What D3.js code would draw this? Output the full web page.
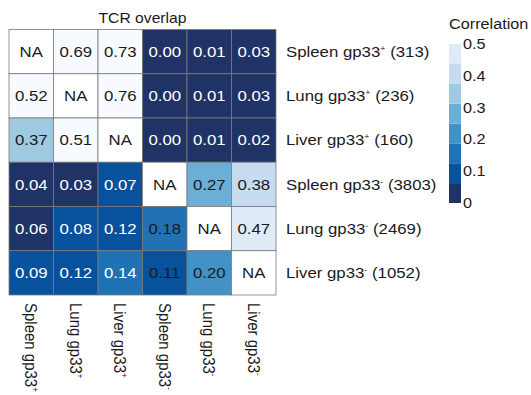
<!DOCTYPE html>
<html><head><meta charset="utf-8">
<script src="https://cdn.jsdelivr.net/npm/d3@7"></script>
<style>body{margin:0;background:#fff;} text{font-family:Arial,"Liberation Sans",sans-serif;}</style>
</head><body><svg id="c" width="531" height="395"></svg>
<script>
const tissues = ["Spleen","Lung","Liver","Spleen","Lung","Liver"];
const signs = ["+","+","+","-","-","-"];
const counts = [313,236,160,3803,2469,1052];
const values = [
  [null,0.69,0.73,0.00,0.01,0.03],
  [0.52,null,0.76,0.00,0.01,0.03],
  [0.37,0.51,null,0.00,0.01,0.02],
  [0.04,0.03,0.07,null,0.27,0.38],
  [0.06,0.08,0.12,0.18,null,0.47],
  [0.09,0.12,0.14,0.11,0.20,null]
];
const binColors = ["#1f3366","#08519c","#2171b5","#4292c6","#6baed6","#9ecae1","#c6dbef","#deebf7","#f7fbff"];
const binBreaks = [0.0625,0.125,0.1875,0.25,0.3125,0.375,0.4375,0.5];
const legendTicks = [0,0.1,0.2,0.3,0.4,0.5];

const svg = d3.select("#c");
const SX = 1.12;
const ink = "#1a1a1a";
const idx = d3.range(tissues.length);
const x = d3.scaleBand().domain(idx).range([9,276]).padding(0);
const y = d3.scaleBand().domain(idx).range([29.5,295]).padding(0);
const color = d3.scaleThreshold().domain(binBreaks).range(binColors);

const cells = [];
values.forEach((row,i)=>row.forEach((v,j)=>cells.push({i,j,v})));

svg.append("g").selectAll("rect").data(cells).join("rect")
  .attr("x",d=>x(d.j)).attr("y",d=>y(d.i))
  .attr("width",x.bandwidth()).attr("height",y.bandwidth())
  .attr("fill",d=>d.v==null?"#ffffff":color(d.v))
  .attr("stroke","#7a7a7a").attr("stroke-width",0.8);

svg.append("g").selectAll("text").data(cells).join("text")
  .attr("transform",d=>`translate(${x(d.j)+x.bandwidth()/2},${y(d.i)+y.bandwidth()/2+5.3}) scale(${SX},1)`)
  .attr("text-anchor","middle").attr("font-size",15)
  .attr("fill",d=>(d.v!=null && signs[d.i]!==signs[d.j])?"#ffffff":ink)
  .text(d=>d.v==null?"NA":d.v.toFixed(2));

svg.append("text")
  .attr("transform",`translate(${(x.range()[0]+x.range()[1])/2},23) scale(${SX},1)`)
  .attr("text-anchor","middle").attr("font-size",14).attr("fill",ink).text("TCR overlap");

// row labels
const rl = svg.append("g").selectAll("text").data(idx).join("text")
  .attr("transform",i=>`translate(286,${y(i)+y.bandwidth()/2}) scale(${SX},1)`)
  .attr("font-size",15).attr("dy","0.35em").attr("fill",ink);
rl.append("tspan").text(i=>tissues[i]+" gp33");
rl.append("tspan").attr("font-size",8).attr("dy",-6).text(i=>signs[i]==="+"?"+":"-");
rl.append("tspan").attr("dy",6).text(i=>" ("+counts[i]+")");

// column labels
const cl = svg.append("g").selectAll("text").data(idx).join("text")
  .attr("transform",i=>`translate(${x(i)+x.bandwidth()/2},303) scale(${SX},1) rotate(90)`)
  .attr("font-size",15).attr("dy","0.35em").attr("fill",ink);
cl.append("tspan").text(i=>tissues[i]+" gp33");
cl.append("tspan").attr("font-size",8).attr("dy",-6).text(i=>signs[i]==="+"?"+":"-");

// legend
const ly = d3.scaleLinear().domain([0,0.5]).range([203,44]);
const bins = [0].concat(binBreaks);
svg.append("g").selectAll("rect").data(d3.range(binBreaks.length)).join("rect")
  .attr("x",449).attr("width",12)
  .attr("y",k=>ly(bins[k+1])).attr("height",k=>ly(bins[k])-ly(bins[k+1]))
  .attr("fill",k=>binColors[k]);
svg.append("g").selectAll("text").data(legendTicks).join("text")
  .attr("transform",t=>`translate(463,${ly(t)+5}) scale(${SX},1)`)
  .attr("font-size",14.5).attr("fill",ink).text(t=>t===0?"0":t.toFixed(1));
svg.append("text").attr("transform",`translate(449,28.5) scale(${SX},1)`)
  .attr("font-size",14.5).attr("fill",ink).text("Correlation");
</script></body></html>
